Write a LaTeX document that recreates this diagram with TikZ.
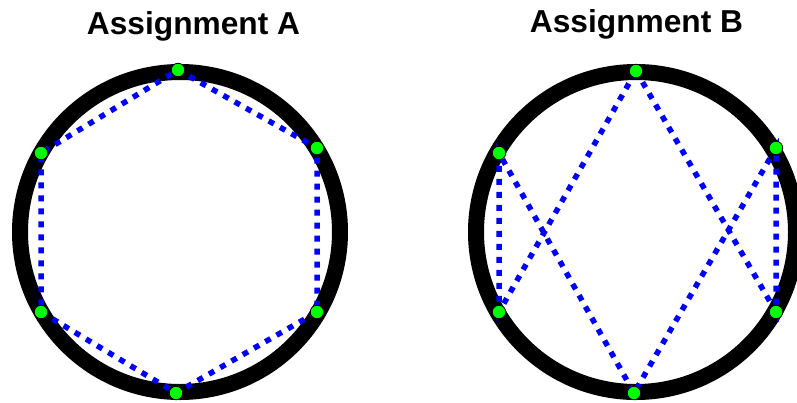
\documentclass[tikz,border=0pt]{standalone}
\usepackage{fontspec}
\setmainfont{Liberation Sans}
\begin{document}
\begin{tikzpicture}[x=1pt,y=-1pt,
  ring/.style={draw=black,line width=16pt},
  pt/.style={circle,inner sep=0pt,minimum size=13.5pt,fill=green,draw=black,line width=0.8pt},
  link/.style={draw=blue,line width=5.5pt,dash pattern=on 6pt off 7pt},
  ttl/.style={anchor=base,font=\fontsize{31.7}{38}\selectfont\bfseries}]
\useasboundingbox (0,0) rectangle (797,402);
\fill[white] (0,0) rectangle (797,402);
\node[ttl] (ta) at (193.5,34) {Assignment A};
\node[ttl] (tb) at (636.5,32) {Assignment B};
% circles
\draw[ring] (180,232) circle[radius=160pt];
\draw[ring] (636,232) circle[radius=160pt];
% point positions
\coordinate (a1) at (178,70);
\coordinate (a2) at (317,148);
\coordinate (a3) at (317,312);
\coordinate (a4) at (176,393);
\coordinate (a5) at (41,312);
\coordinate (a6) at (41,153);
\coordinate (b1) at (636,71);
\coordinate (b2) at (776,148);
\coordinate (b3) at (776,312);
\coordinate (b4) at (634,393);
\coordinate (b5) at (499,312);
\coordinate (b6) at (499,153);
% links A
\draw[link] (a1) -- (a2) -- (a3) -- (a4) -- (a5) -- (a6) -- (a1);
% links B
\draw[link] (b1) -- (b3) -- (b2) -- (b4) -- (b6) -- (b5) -- (b1);
% points
\foreach \p in {a1,a2,a3,a4,a5,a6,b1,b2,b3,b4,b5,b6}
  \node[pt] (n\p) at (\p) {};
\end{tikzpicture}
\end{document}
